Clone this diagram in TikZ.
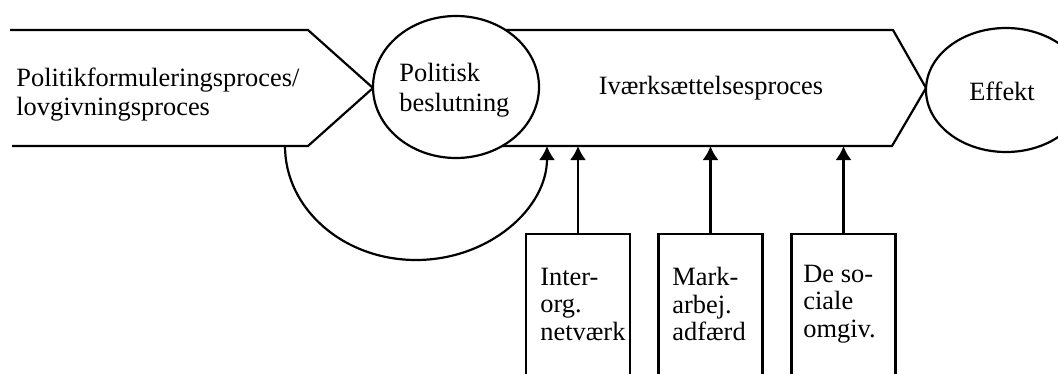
\documentclass[tikz,border=0pt]{standalone}
\usepackage{fontspec}
\setmainfont{Liberation Serif}
\usetikzlibrary{arrows.meta,shapes.geometric}
\begin{document}
\begin{tikzpicture}[x=0.5pt,y=-0.5pt,
  line/.style={line width=1.1pt, line join=miter},
  lbl/.style={font=\fontsize{13.2}{14.5}\selectfont, inner sep=0pt, align=left},
  blbl/.style={font=\fontsize{13.2}{13.75}\selectfont, inner sep=0pt, align=left, anchor=west},
  oval/.style={ellipse, draw, line width=1.1pt, fill=white, inner sep=0pt},
  sidebox/.style={draw, line width=1.1pt, minimum width=52pt, minimum height=100pt, anchor=north, inner sep=0pt},
  arr/.style={line width=1.1pt, -{Latex[length=7pt,width=8pt]}}]
\clip (0,0) rectangle (1058,374);
% left process arrow (open on the left)
\draw[line] (10,30) -- (308,30) -- (373,88) -- (308,146) -- (12,146);
% implementation process arrow
\draw[line] (456,30) -- (893,30) -- (926,88) -- (892,146) -- (456,146);
\coordinate (lbot) at (285,146);
\coordinate (ivbot) at (700,146);
% ovals
\node[oval, minimum width=83pt, minimum height=71pt] (beslut) at (456,87) {};
\node[oval, minimum width=80pt, minimum height=62pt] (effekt) at (1006,90) {};
% texts
\node[lbl, anchor=west] (pf) at (16,95) {Politikformuleringsproces/\\lovgivningsproces};
\node[lbl, anchor=west, font=\fontsize{13.2}{15}\selectfont] (pb) at (399,90) {Politisk\\beslutning};
\node[lbl, anchor=base] (iv) at (711,95) {Iværksættelsesproces};
\node[lbl, anchor=base] (ef) at (1002,100) {Effekt};
% side boxes
\node[sidebox] (io) at (578,233) {};
\node[sidebox] (ma) at (710.5,233) {};
\node[sidebox] (so) at (843.5,233) {};
\node[blbl] (iot) at (540,304) {Inter-\\org.\\netværk};
\node[blbl] (mat) at (672,304) {Mark-\\arbej.\\adfærd};
\node[blbl] (sot) at (803,304) {De so-\\ciale\\omgiv.};
% connectors
\coordinate (loopend) at (547,146);
\draw[arr] (lbot) arc[start angle=180, end angle=360, x radius=65.5pt, y radius=57pt];
\draw[arr] (io.north) -- (io.north |- ivbot);
\draw[arr] (ma.north) -- (ma.north |- ivbot);
\draw[arr] (so.north) -- (so.north |- ivbot);
\end{tikzpicture}
\end{document}
